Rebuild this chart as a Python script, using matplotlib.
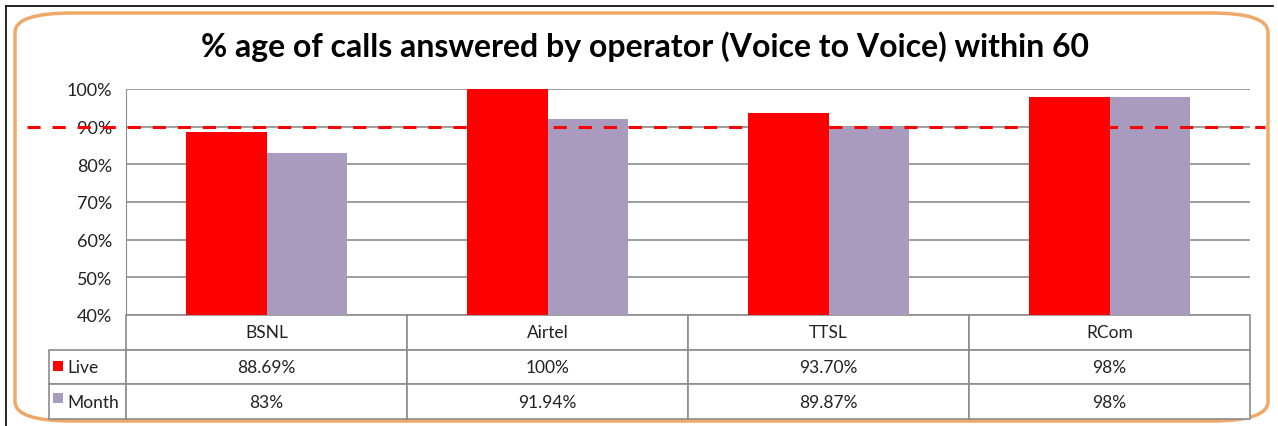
import matplotlib
matplotlib.use("Agg")
import matplotlib.pyplot as plt
import numpy as np
from matplotlib.patches import FancyBboxPatch, Rectangle

plt.rcParams['font.family'] = ['Lato', 'DejaVu Sans']

# data
operators = ['BSNL', 'Airtel', 'TTSL', 'RCom']
live = [88.69, 100, 93.70, 98]
month = [83, 91.94, 89.87, 98]
live_labels = ['88.69%', '100%', '93.70%', '98%']
month_labels = ['83%', '91.94%', '89.87%', '98%']
target = 90

RED = '#FF0000'
PURPLE = '#A99BBD'
GRID = '#8C8C8C'

fig = plt.figure(figsize=(12.78, 4.27), dpi=100)

# frame round the chart (rounded orange border like the excel chart area)
frame = FancyBboxPatch((15 / 1278, 5 / 427), 1253 / 1278, 408 / 427,
                       boxstyle="round,pad=0,rounding_size=0.045",
                       transform=fig.transFigure, facecolor='white',
                       edgecolor='#F0A868', linewidth=2.5, zorder=-5)
fig.add_artist(frame)
fig.add_artist(plt.Line2D([6 / 1278, 6 / 1278], [0, 1 - 7 / 427], color='black', lw=1.2))
fig.add_artist(plt.Line2D([6 / 1278, 1273 / 1278], [1 - 7 / 427, 1 - 7 / 427], color='black', lw=1.2))

ax = fig.add_axes([126 / 1278, 1 - 316 / 427, 1124 / 1278, 226 / 427])
ax.set_facecolor('none')

x = np.arange(len(operators))
w = 0.285
ax.bar(x - w / 2, live, w, color=RED, zorder=2)
ax.bar(x + w / 2, month, w, color=PURPLE, zorder=2)

ax.set_xlim(-0.5, len(operators) - 0.5)
ax.set_ylim(40, 100)
ax.set_yticks(range(40, 101, 10))
ax.set_yticklabels([f'{v}%' for v in range(40, 101, 10)], fontsize=13, color='#222222')
ax.set_xticks([])
ax.yaxis.grid(True, color=GRID, lw=1.2, zorder=0)
ax.tick_params(axis='y', length=0, pad=10)
for s in ['top', 'right', 'bottom']:
    ax.spines[s].set_visible(False)
ax.spines['left'].set_color(GRID)

# target line across the whole chart
ax.axhline(target, xmin=-0.088, xmax=1.013, color=RED, lw=2.2,
           linestyle=(0, (4.3, 3.9)), clip_on=False, zorder=3)

fig.text(645 / 1278, 1 - 47 / 427,
         '% age of calls answered by operator (Voice to Voice) within 60',
         fontsize=23, fontweight='bold', ha='center', va='center')

# data table under the axes
label_w = 79 / 1124
tbl = ax.table(cellText=[live_labels, month_labels],
               rowLabels=['Live', 'Month'],
               colLabels=operators,
               colWidths=[0.25] * len(operators),
               cellLoc='center', rowLoc='left',
               bbox=[0, -104 / 226, 1, 104 / 226])
tbl.auto_set_font_size(False)
tbl.set_fontsize(12.5)
for (r, c), cell in tbl.get_celld().items():
    cell.set_edgecolor(GRID)
    cell.set_linewidth(1.2)
    cell.set_facecolor('white')
    cell.get_text().set_color('#222222')
    if c == -1:
        cell.set_width(label_w)
        cell.PAD = 0.24

# legend keys in the row labels
for i, col in enumerate([RED, PURPLE]):
    ax.add_patch(Rectangle((-label_w + 6 / 1124, -(56 + 32 * i) / 226),
                           10 / 1124, 10 / 226, transform=ax.transAxes,
                           facecolor=col, edgecolor='none', clip_on=False, zorder=5))

fig.savefig('out.png', dpi=100)
